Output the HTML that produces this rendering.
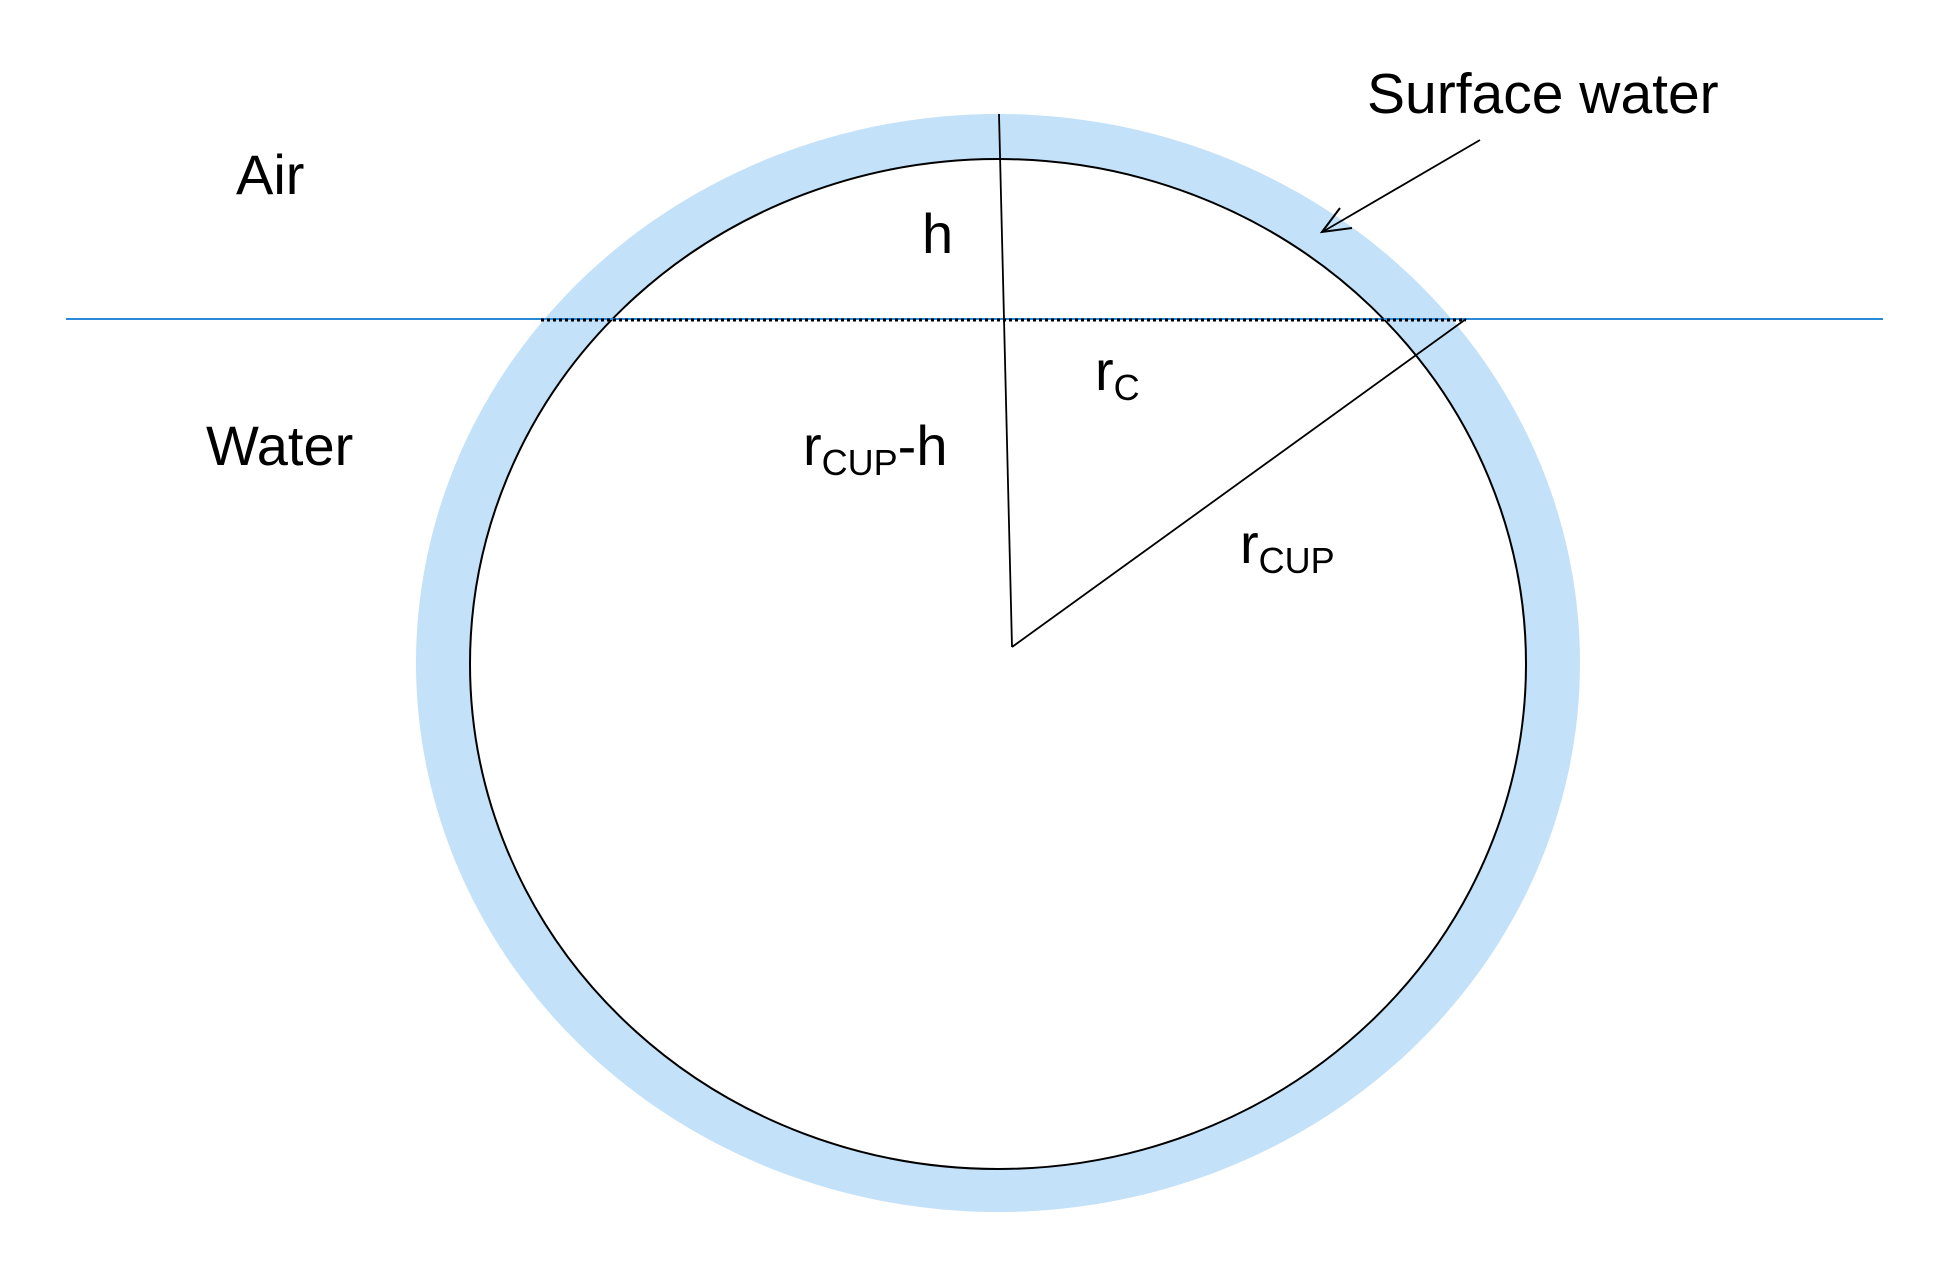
<!DOCTYPE html>
<html><head><style>html,body{margin:0;padding:0;background:#fff}svg{display:block}</style></head>
<body>
<svg width="1934" height="1269" viewBox="0 0 1934 1269" xmlns="http://www.w3.org/2000/svg" font-family="Liberation Sans, Arial, sans-serif" font-size="56">
<ellipse cx="998" cy="663" rx="582" ry="549" fill="#c3e1f8"/>
<ellipse cx="998" cy="664" rx="528" ry="505" fill="#fff" stroke="#000" stroke-width="2"/>
<line x1="66" y1="319" x2="1883" y2="319" stroke="#2a8ad8" stroke-width="2"/>
<line x1="541" y1="320" x2="1466" y2="320" stroke="#000" stroke-width="3" stroke-dasharray="3,3"/>
<line x1="999" y1="114" x2="1012" y2="647" stroke="#000" stroke-width="1.8"/>
<line x1="1012" y1="647" x2="1466" y2="319" stroke="#000" stroke-width="1.8"/>
<line x1="1480" y1="140" x2="1324" y2="231" stroke="#000" stroke-width="1.8"/>
<polyline points="1340,208 1322,232 1352,228" fill="none" stroke="#000" stroke-width="2"/>
<text x="1367" y="113" font-size="57">Surface water</text>
<text x="236" y="194">Air</text>
<text x="922" y="253">h</text>
<text x="1095" y="390">r<tspan font-size="36" dy="10">C</tspan></text>
<text x="206" y="465">Water</text>
<text x="803" y="465">r<tspan font-size="36" dy="10">CUP</tspan><tspan dy="-10">-h</tspan></text>
<text x="1240" y="563">r<tspan font-size="36" dy="10">CUP</tspan></text>
</svg>
</body></html>
